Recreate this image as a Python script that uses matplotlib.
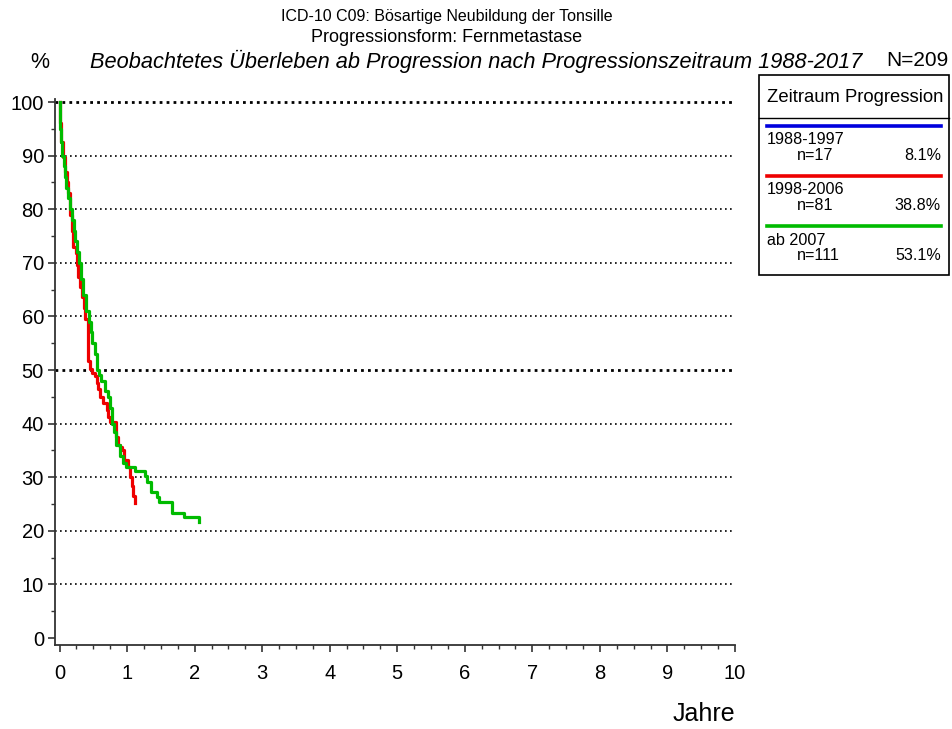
import matplotlib
matplotlib.use("Agg")
import matplotlib.pyplot as plt
from matplotlib.patches import Rectangle
from matplotlib.lines import Line2D
from matplotlib.ticker import MultipleLocator

plt.rcParams['font.family'] = ['Liberation Sans', 'DejaVu Sans']

# ---- data ----
title1 = "ICD-10 C09: Bösartige Neubildung der Tonsille"
title2 = "Progressionsform: Fernmetastase"
subtitle = "Beobachtetes Überleben ab Progression nach Progressionszeitraum 1988-2017"
total_n = "N=209"

groups = ["1988-1997", "1998-2006", "ab 2007"]
group_n = ["n=17", "n=81", "n=111"]
group_pct = ["8.1%", "38.8%", "53.1%"]
group_colors = ["#0000dd", "#ee0000", "#00bb00"]

red_t = [0, 0.01, 0.02, 0.05, 0.08, 0.11, 0.13, 0.15, 0.18, 0.20, 0.24, 0.26, 0.28,
         0.30, 0.33, 0.36, 0.38, 0.42, 0.45, 0.48, 0.52, 0.55, 0.57, 0.60, 0.65, 0.70,
         0.72, 0.74, 0.84, 0.87, 0.89, 0.92, 0.96, 1.01, 1.04, 1.07, 1.09, 1.11]
red_s = [100, 96, 92.6, 89.7, 87, 85, 83, 79, 76, 73, 71.8, 69.5, 67.4,
         65.5, 63.6, 61.5, 59.6, 51.6, 50.2, 49.5, 48.8, 47.6, 46.5, 45, 43.8, 42.5,
         41.3, 40.3, 37.5, 36, 35.6, 35, 33.2, 31.9, 30, 28.3, 26.5, 25.1]

green_t = [0, 0.01, 0.02, 0.04, 0.06, 0.08, 0.10, 0.13, 0.15, 0.18, 0.21, 0.23, 0.26,
           0.29, 0.32, 0.35, 0.39, 0.43, 0.46, 0.48, 0.52, 0.55, 0.58, 0.62, 0.67, 0.72,
           0.74, 0.77, 0.81, 0.84, 0.89, 0.94, 0.98, 1.12, 1.26, 1.30, 1.36, 1.44, 1.48,
           1.66, 1.84, 2.07]
green_s = [100, 95, 92.5, 90, 88, 86, 84, 82, 80, 78, 76, 74, 72,
           70, 67, 64, 61, 59, 57, 55, 53, 50, 49, 48, 46, 45,
           43, 40, 38.5, 36, 34, 32.6, 32, 31.1, 30.2, 29.1, 27.2, 26.3, 25.3,
           23.4, 22.5, 21.6]

x_ticks = list(range(0, 11))
y_ticks = list(range(0, 101, 10))
grid_levels = list(range(10, 101, 10))

# ---- figure ----
W, H = 952, 729
fig = plt.figure(figsize=(W / 100, H / 100), dpi=100)

def fx(px):
    return px / W

def fy(py):
    return 1 - py / H

ax = fig.add_axes([fx(55), fy(645), fx(735) - fx(55), fy(99) - fy(645)])
xmin, xmax = -0.067, 10.0
ax.set_xlim(xmin, xmax)
ax.set_ylim(-1.3, 100.56)

for sp in ["top", "right"]:
    ax.spines[sp].set_visible(False)
for sp in ["left", "bottom"]:
    ax.spines[sp].set_linewidth(1.3)
    ax.spines[sp].set_color("#333333")

for g in grid_levels:
    bold = g in (50, 100)
    ax.hlines(g, xmin, xmax, colors="black",
              linestyles=(0, (1, 1.5)) if bold else (0, (1, 2.0)),
              linewidth=2.0 if bold else 1.2, zorder=1)

ax.plot(red_t, red_s, drawstyle="steps-post", color=group_colors[1], lw=2.3, zorder=3)
ax.plot(green_t, green_s, drawstyle="steps-post", color=group_colors[2], lw=2.3, zorder=4)

ax.set_xticks(x_ticks)
ax.set_yticks(y_ticks)
ax.xaxis.set_minor_locator(MultipleLocator(0.25))
ax.yaxis.set_minor_locator(MultipleLocator(5))
ax.tick_params(axis="both", which="major", direction="out", length=5, width=1.2,
               labelsize=14.5, colors="#333333", labelcolor="black")
ax.tick_params(axis="both", which="minor", direction="out", length=3, width=1.0, colors="#333333")
ax.tick_params(axis="x", pad=9)
ax.tick_params(axis="y", pad=3)

# ---- titles ----
fig.text(fx(447), fy(17), title1, ha="center", va="center", fontsize=11.5)
fig.text(fx(447), fy(37), title2, ha="center", va="center", fontsize=13)
fig.text(fx(90), fy(61), subtitle, ha="left", va="center", fontsize=15.7, style="italic")
fig.text(fx(40), fy(63), "%", ha="center", va="center", fontsize=15.5)
fig.text(fx(949), fy(61), total_n, ha="right", va="center", fontsize=15)
fig.text(fx(704), fy(714), "Jahre", ha="center", va="center", fontsize=18)

# ---- legend box ----
fig.patches.append(Rectangle((fx(759), fy(275)), fx(949) - fx(759), fy(75) - fy(275),
                             transform=fig.transFigure, fill=False, edgecolor="black",
                             linewidth=1.2))
fig.lines.append(Line2D([fx(759), fx(949)], [fy(118), fy(118)], transform=fig.transFigure,
                        color="black", linewidth=1.0))
fig.text(fx(855), fy(97), "Zeitraum Progression", ha="center", va="center", fontsize=13.3)

for i, (gname, gn, gp, col) in enumerate(zip(groups, group_n, group_pct, group_colors)):
    y0 = 126 + 50 * i
    fig.lines.append(Line2D([fx(767), fx(941)], [fy(y0), fy(y0)], transform=fig.transFigure,
                            color=col, linewidth=2.6))
    fig.text(fx(767), fy(y0 + 14), gname, ha="left", va="center", fontsize=11.6)
    fig.text(fx(797), fy(y0 + 29), gn, ha="left", va="center", fontsize=11.6)
    fig.text(fx(941), fy(y0 + 29), gp, ha="right", va="center", fontsize=11.6)

fig.savefig("out.png", dpi=100)
